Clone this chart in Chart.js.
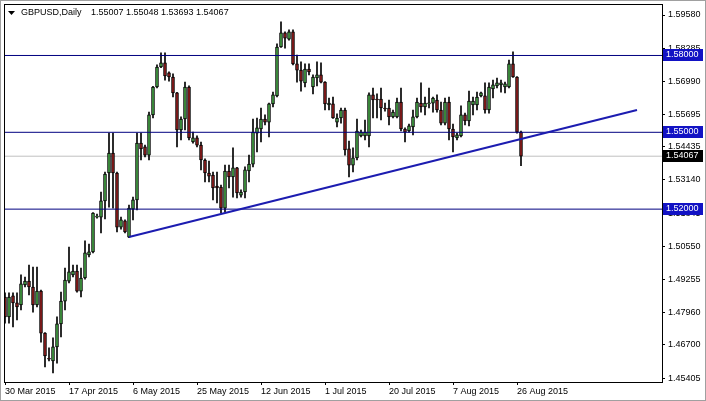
<!DOCTYPE html>
<html>
<head>
<meta charset="utf-8">
<script src="https://cdn.jsdelivr.net/npm/chart.js@4/dist/chart.umd.min.js"></script>
<style>
  html, body { margin: 0; padding: 0; background: #fff; }
  canvas { display: block; }
</style>
</head>
<body>
<canvas id="gbpChart" width="706" height="401"></canvas>
<script>
const symbolTitle = 'GBPUSD,Daily';
const headerOhlc = '1.55007 1.55048 1.53693 1.54067';

// daily candles, one per trading day (index 0 = 30 Mar 2015)
const opens = [
  1.4857,1.4779,1.4861,1.4834,1.4826,1.4904,1.4919,1.4896,1.4826,1.4880,
  1.4716,1.4615,1.4607,1.4662,1.4752,1.4841,1.4919,1.4943,1.4958,1.4880,
  1.4931,1.5021,1.5033,1.5169,1.5169,1.5232,1.5341,1.5419,1.5341,1.5130,
  1.5154,1.5091,1.5200,1.5236,1.5458,1.5443,1.5411,1.5568,1.5677,1.5755,
  1.5771,1.5732,1.5716,1.5654,1.5509,1.5552,1.5677,1.5462,1.5478,1.5450,
  1.5392,1.5341,1.5333,1.5290,1.5286,1.5204,1.5349,1.5326,1.5361,1.5255,
  1.5267,1.5349,1.5376,1.5497,1.5513,1.5552,1.5540,1.5611,1.5642,1.5833,
  1.5888,1.5864,1.5892,1.5767,1.5743,1.5693,1.5747,1.5677,1.5712,1.5724,
  1.5696,1.5607,1.5611,1.5540,1.5556,1.5587,1.5435,1.5372,1.5400,1.5486,
  1.5486,1.5486,1.5646,1.5630,1.5630,1.5595,1.5595,1.5560,1.5560,1.5618,
  1.5513,1.5505,1.5521,1.5560,1.5614,1.5599,1.5611,1.5614,1.5626,1.5587,
  1.5536,1.5618,1.5513,1.5478,1.5486,1.5568,1.5544,1.5607,1.5607,1.5642,
  1.5642,1.5587,1.5669,1.5681,1.5685,1.5677,1.5677,1.5767,1.5716,1.55007
];
const highs = [
  1.4873,1.4873,1.4873,1.4873,1.4943,1.4935,1.4982,1.4974,1.4974,1.4884,
  1.4718,1.4658,1.4697,1.4779,1.4876,1.4970,1.5052,1.4982,1.4982,1.4970,
  1.5076,1.5064,1.5187,1.5181,1.5267,1.5345,1.5497,1.5497,1.5345,1.5169,
  1.5158,1.5216,1.5247,1.5497,1.5497,1.5450,1.5579,1.5680,1.5763,1.5810,
  1.5810,1.5736,1.5728,1.5656,1.5560,1.5696,1.5681,1.5501,1.5486,1.5462,
  1.5396,1.5388,1.5345,1.5345,1.5294,1.5372,1.5372,1.5439,1.5363,1.5275,
  1.5365,1.5411,1.5552,1.5556,1.5595,1.5568,1.5614,1.5657,1.5845,1.5931,
  1.5892,1.5900,1.5900,1.5802,1.5775,1.5767,1.5767,1.5724,1.5775,1.5771,
  1.5698,1.5634,1.5638,1.5572,1.5595,1.5595,1.5466,1.5439,1.5552,1.5509,
  1.5548,1.5654,1.5673,1.5650,1.5673,1.5614,1.5626,1.5587,1.5634,1.5673,
  1.5517,1.5532,1.5587,1.5634,1.5693,1.5638,1.5673,1.5638,1.5646,1.5618,
  1.5634,1.5638,1.5532,1.5497,1.5603,1.5575,1.5661,1.5638,1.5657,1.5657,
  1.5693,1.5693,1.5704,1.5712,1.5704,1.5696,1.5782,1.5814,1.5718,1.55048
];
const lows = [
  1.4755,1.4755,1.4740,1.4767,1.4806,1.4896,1.4865,1.4798,1.4818,1.4681,
  1.4584,1.4607,1.4560,1.4599,1.4701,1.4806,1.4912,1.4935,1.4876,1.4857,
  1.4927,1.5013,1.5029,1.5165,1.5107,1.5162,1.5208,1.5204,1.5111,1.5122,
  1.5107,1.5089,1.5158,1.5197,1.5392,1.5404,1.5392,1.5556,1.5673,1.5752,
  1.5704,1.5700,1.5638,1.5443,1.5470,1.5509,1.5470,1.5458,1.5443,1.5353,
  1.5306,1.5306,1.5236,1.5224,1.5185,1.5189,1.5283,1.5247,1.5244,1.5247,
  1.5244,1.5306,1.5365,1.5423,1.5462,1.5529,1.5482,1.5599,1.5638,1.5831,
  1.5829,1.5860,1.5763,1.5696,1.5661,1.5677,1.5724,1.5650,1.5681,1.5693,
  1.5587,1.5587,1.5554,1.5521,1.5536,1.5411,1.5326,1.5345,1.5392,1.5482,
  1.5470,1.5443,1.5556,1.5556,1.5548,1.5583,1.5529,1.5556,1.5556,1.5505,
  1.5462,1.5501,1.5490,1.5556,1.5579,1.5568,1.5595,1.5579,1.5579,1.5529,
  1.5529,1.5470,1.5423,1.5470,1.5482,1.5529,1.5525,1.5568,1.5587,1.5638,
  1.5575,1.5575,1.5634,1.5673,1.5657,1.5654,1.5673,1.5714,1.5497,1.53693
];
const closes = [
  1.4779,1.4857,1.4834,1.4818,1.4908,1.4919,1.4896,1.4826,1.4880,1.4716,
  1.4627,1.4614,1.4662,1.4752,1.4841,1.4923,1.4955,1.4958,1.4880,1.4931,
  1.5029,1.5033,1.5185,1.5170,1.5232,1.5337,1.5419,1.5341,1.5130,1.5158,
  1.5111,1.5204,1.5236,1.5458,1.5435,1.5411,1.5568,1.5677,1.5755,1.5771,
  1.5720,1.5716,1.5654,1.5509,1.5552,1.5677,1.5478,1.5478,1.5450,1.5392,
  1.5341,1.5329,1.5283,1.5283,1.5204,1.5349,1.5326,1.5361,1.5263,1.5267,
  1.5353,1.5376,1.5501,1.5517,1.5552,1.5540,1.5611,1.5646,1.5833,1.5888,
  1.5868,1.5892,1.5767,1.5743,1.5700,1.5747,1.5736,1.5716,1.5724,1.5696,
  1.5611,1.5614,1.5556,1.5556,1.5587,1.5431,1.5372,1.5400,1.5505,1.5501,
  1.5501,1.5646,1.5626,1.5626,1.5595,1.5591,1.5560,1.5579,1.5618,1.5513,
  1.5501,1.5525,1.5560,1.5618,1.5599,1.5614,1.5614,1.5634,1.5587,1.5536,
  1.5618,1.5513,1.5482,1.5490,1.5568,1.5544,1.5622,1.5622,1.5638,1.5654,
  1.5587,1.5677,1.5685,1.5693,1.5693,1.5689,1.5767,1.5716,1.5501,1.54067
];

const dateLabels = ['30 Mar 2015', '17 Apr 2015', '6 May 2015', '25 May 2015', '12 Jun 2015',
                    '1 Jul 2015', '20 Jul 2015', '7 Aug 2015', '26 Aug 2015'];
const dateIndex = [0, 16, 32, 48, 64, 80, 96, 112, 128];

const priceTicks = [1.59580, 1.58285, 1.56990, 1.55695, 1.54435, 1.53140,
                    1.51845, 1.50550, 1.49255, 1.47960, 1.46700, 1.45405];
const levels = [1.58000, 1.55000, 1.52000];
const lastPrice = 1.54067;
const trendX = [31, 158];
const trendY = [1.5091, 1.5587];

const xMin = -0.25, xMax = 164.25;
const yMin = 1.4525, yMax = 1.6001;

const bullColor = '#44a044';
const bearColor = '#8e1c1c';
const axisFont = { family: "'Liberation Sans', Arial, sans-serif", size: 9 };

const isBull = (i) => closes[i] >= opens[i];

const chartDecor = {
    id: 'chartDecor',
    afterDraw(chart) {
        const c = chart.ctx;
        const area = chart.chartArea;
        const y = chart.scales.y;
        c.save();
        // window and plot frame
        c.strokeStyle = '#a0a0a0';
        c.lineWidth = 1;
        c.strokeRect(0.5, 0.5, chart.width - 1, chart.height - 1);
        c.strokeStyle = '#000';
        c.strokeRect(area.left + 0.5, area.top + 0.5, area.right - area.left, area.bottom - area.top);

        // header
        c.fillStyle = '#000';
        c.beginPath();
        c.moveTo(8, 11); c.lineTo(15, 11); c.lineTo(11.5, 15); c.closePath();
        c.fill();
        c.font = '9px ' + axisFont.family;
        c.textBaseline = 'middle';
        c.textAlign = 'left';
        c.fillText(symbolTitle, 21, 13);
        c.fillText(headerOhlc, 91, 13);

        // price tags on the right axis
        const tag = (v, bg) => {
            const py = Math.round(y.getPixelForValue(v));
            c.fillStyle = bg;
            c.fillRect(663, py - 6, 40, 12);
            c.fillStyle = '#fff';
            c.fillText(v.toFixed(5), 666, py);
        };
        levels.forEach(v => tag(v, '#1212c4'));
        tag(lastPrice, '#000');
        c.restore();
    }
};

const flatLine = (v) => [{ x: xMin, y: v }, { x: xMax, y: v }];
const noPadding = (s) => { s.paddingTop = 0; s.paddingBottom = 0; s.paddingLeft = 0; s.paddingRight = 0; };

const ctx = document.getElementById('gbpChart').getContext('2d');
const gbpChart = new Chart(ctx, {
    type: 'bar',
    plugins: [chartDecor],
    data: {
        datasets: [
            {
                type: 'line',
                data: trendX.map((x, i) => ({ x: x, y: trendY[i] })),
                borderColor: '#1c1cb0',
                borderWidth: 2,
                pointRadius: 0,
                order: -1
            },
            ...levels.map(v => ({
                type: 'line',
                data: flatLine(v),
                borderColor: '#000080',
                borderWidth: 1,
                pointRadius: 0,
                order: -1
            })),
            {
                data: opens.map((o, i) => ({ x: i, y: [o, closes[i]] })),
                backgroundColor: (c) => isBull(c.dataIndex) ? bullColor : bearColor,
                borderColor: '#000',
                borderWidth: 1,
                borderSkipped: false,
                barThickness: 3,
                minBarLength: 1,
                grouped: false,
                order: 0
            },
            {
                data: lows.map((l, i) => ({ x: i, y: [l, highs[i]] })),
                backgroundColor: '#000',
                borderWidth: 0,
                barThickness: 1,
                grouped: false,
                order: 1
            },
            {
                type: 'line',
                data: flatLine(lastPrice),
                borderColor: '#c0c0c0',
                borderWidth: 1,
                pointRadius: 0,
                order: 2
            }
        ]
    },
    options: {
        responsive: false,
        animation: false,
        devicePixelRatio: 1,
        layout: { padding: { left: 4, top: 4, right: 0, bottom: 0 } },
        plugins: {
            legend: { display: false },
            tooltip: { enabled: false }
        },
        scales: {
            x: {
                type: 'linear',
                min: xMin,
                max: xMax,
                offset: false,
                grid: {
                    offset: false,
                    drawOnChartArea: false,
                    tickLength: 3,
                    color: '#000'
                },
                border: { color: '#000' },
                afterBuildTicks: (s) => { s.ticks = dateIndex.map(v => ({ value: v })); },
                afterFit: (s) => { s.height = 19; noPadding(s); },
                ticks: {
                    autoSkip: false,
                    maxRotation: 0,
                    align: 'start',
                    padding: 1,
                    color: '#000',
                    font: axisFont,
                    callback: (v) => dateLabels[dateIndex.indexOf(v)]
                }
            },
            y: {
                type: 'linear',
                position: 'right',
                min: yMin,
                max: yMax,
                grid: {
                    drawOnChartArea: false,
                    tickLength: 3,
                    color: '#000'
                },
                border: { color: '#000' },
                afterBuildTicks: (s) => { s.ticks = priceTicks.map(v => ({ value: v })); },
                afterFit: (s) => { s.width = 44; noPadding(s); },
                ticks: {
                    padding: 3,
                    color: '#000',
                    font: axisFont,
                    callback: (v) => v.toFixed(5)
                }
            }
        }
    }
});
</script>
</body>
</html>
